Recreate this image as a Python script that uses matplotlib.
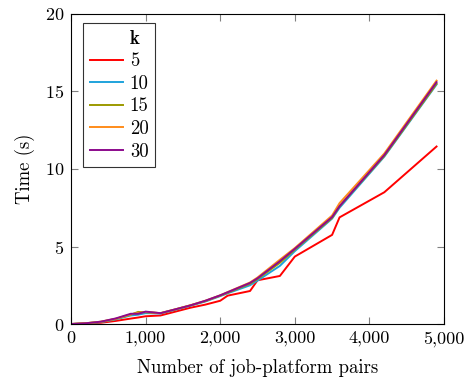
import numpy as np
import matplotlib.pyplot as plt
from matplotlib.lines import Line2D

plt.rcParams['font.family'] = 'cmr10'
plt.rcParams['mathtext.fontset'] = 'cm'
plt.rcParams['axes.formatter.use_mathtext'] = True

pairs = [0, 200, 400, 600, 800, 900, 1000, 1200, 1400, 1600, 1800,
         2000, 2100, 2400, 2500, 2800, 3000, 3500, 3600, 4200, 4900]

k_labels = ['5', '10', '15', '20', '30']
colors = ['#ff0000', '#1fa3dc', '#9c9a00', '#ff8c1a', '#8c0a8c']

t_k5 = [0, 0.03, 0.08, 0.2, 0.35, 0.42, 0.5, 0.55, 0.8, 1.05, 1.25,
        1.5, 1.83, 2.13, 2.82, 3.1, 4.35, 5.75, 6.88, 8.5, 11.45]
t_k10 = [0, 0.04, 0.12, 0.3, 0.55, 0.6, 0.7, 0.68, 0.92, 1.18, 1.45,
         1.8, 1.98, 2.5, 2.8, 3.75, 4.7, 6.8, 7.5, 10.8, 15.45]
t_k15 = [0, 0.05, 0.14, 0.33, 0.6, 0.78, 0.76, 0.7, 0.94, 1.2, 1.48,
         1.83, 2.02, 2.6, 2.9, 3.95, 4.8, 6.85, 7.6, 10.85, 15.5]
t_k20 = [0, 0.05, 0.15, 0.34, 0.62, 0.72, 0.78, 0.7, 0.95, 1.21, 1.5,
         1.85, 2.06, 2.68, 3.0, 4.15, 4.9, 7.0, 7.8, 11.0, 15.7]
t_k30 = [0, 0.05, 0.15, 0.36, 0.66, 0.66, 0.8, 0.7, 0.95, 1.2, 1.5,
         1.85, 2.05, 2.65, 2.95, 4.05, 4.85, 6.9, 7.6, 10.9, 15.6]
series = [t_k5, t_k10, t_k15, t_k20, t_k30]

fig = plt.figure(figsize=(4.69, 3.82), dpi=100)
ax = fig.add_axes([0.1514, 0.1518, 0.7953, 0.8116])

handles = [Line2D([], [], color='none')]
for lab, col, ys in zip(k_labels, colors, series):
    line, = ax.plot(pairs, ys, color=col, lw=1.4, label=lab)
    handles.append(line)

ax.set_xlim(0, 5000)
ax.set_ylim(0, 20)
ax.set_xticks(np.arange(0, 5001, 1000))
ax.set_yticks(np.arange(0, 21, 5))
ax.set_xticklabels([f'{v:,}' for v in range(0, 5001, 1000)])
ax.tick_params(direction='in', length=5, width=0.8, color='#808080',
               top=True, right=True, labelsize=13, pad=5)
for s in ax.spines.values():
    s.set_linewidth(0.8)

ax.set_xlabel('Number of job-platform pairs', fontsize=13.5, labelpad=9)
ax.set_ylabel('Time (s)', fontsize=13.5, labelpad=7)

# first row holds the bold "k" header above the values
leg = ax.legend(handles, ['k'] + k_labels, loc='upper left',
                bbox_to_anchor=(0.032, 0.971), borderaxespad=0,
                fontsize=13.5, frameon=True, fancybox=False,
                edgecolor='black', handlelength=1.8, borderpad=0.35,
                labelspacing=0.25, handletextpad=0.35)
leg.get_texts()[0].set_fontfamily('cmb10')
leg.get_frame().set_linewidth(0.8)

fig.savefig('out.png', dpi=100)
